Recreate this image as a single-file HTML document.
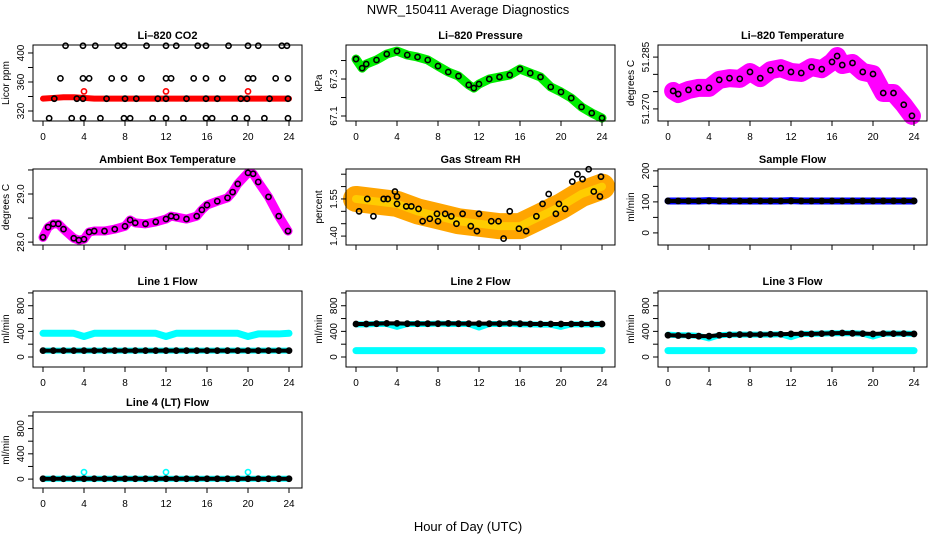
<!DOCTYPE html>
<html><head><meta charset="utf-8"><style>
html,body{margin:0;padding:0;background:#fff;}
svg{display:block;font-family:"Liberation Sans",sans-serif;}
</style></head><body>
<svg id="chart" width="936" height="540" viewBox="0 0 936 540" xmlns="http://www.w3.org/2000/svg">
<text x="468" y="14" text-anchor="middle" font-size="13">NWR_150411  Average Diagnostics</text>
<text x="468" y="531" text-anchor="middle" font-size="13">Hour of Day (UTC)</text>
</svg>
<script>
const xTicks = [0,4,8,12,16,20,24];
// CO2
const co2BandHours = [0,1,2,3,4,5,6,8,10,12,14,16,18,20,22,24];
const co2BandVals = [337,338,339,339,338,337,337,337,337,337,337,337,337,337,337,337];
const co2BlackHours = [2.2,3.9,5.1,7.3,7.9,10.1,12,13,15.1,15.9,18.1,20,21,23.3,23.8,1.7,3.9,4.5,6.7,7.9,9.6,12,12.5,14.7,15.9,17.5,20,20.5,22.7,23.9,1.1,3.3,3.9,6.2,8,9.1,11.2,12,14,15.9,17,19.3,19.9,22.1,23.9,0.6,2.8,3.9,5.6,7.9,8.5,10.7,12,13.7,15.9,16.5,18.7,19.9,21.6,23.9];
const co2BlackVals = [410,410,410,410,410,410,410,410,410,410,410,410,410,410,410,365,365,365,365,365,365,365,365,365,365,365,365,365,365,365,337,337,337,337,337,337,337,337,337,337,337,337,337,337,337,310,310,310,310,310,310,310,310,310,310,310,310,310,310,310];
const co2RedHours = [4,12,20];
const co2RedVals = [347,347,347];
// Pressure
const presHours = [0,0.6,1,2,3,4,5,6,7,8,9,10,11,11.5,12,13,14,15,16,17,18,19,20,21,22,23,24];
const presVals = [67.408,67.359,67.381,67.403,67.435,67.451,67.430,67.419,67.403,67.370,67.338,67.316,67.268,67.251,67.273,67.300,67.311,67.322,67.354,67.332,67.311,67.257,67.230,67.197,67.149,67.116,67.089];
// Li-820 temperature
const tempHours = [0.5,1,2,3,4,5,6,7,8,9,10,11,12,13,14,15,16,16.5,17,18,19,20,21,22,23,23.8];
const tempVals = [51.2752,51.2743,51.2755,51.2761,51.2761,51.2784,51.2789,51.2787,51.2807,51.2789,51.2812,51.2818,51.2807,51.2804,51.2821,51.2815,51.2836,51.2853,51.2827,51.2833,51.2807,51.2801,51.2746,51.2746,51.2712,51.2680];
// Ambient box temperature
const ambHours = [0,0.5,1,1.5,2,3,3.5,4,4.5,5,6,7,8,8.5,9,10,11,12,12.5,13,14,15,15.5,16,17,18,18.5,19,20,20.5,21,22,23,23.9];
const ambVals = [28.10,28.31,28.38,28.38,28.27,28.08,28.04,28.06,28.21,28.23,28.23,28.27,28.33,28.46,28.40,28.38,28.42,28.48,28.54,28.52,28.48,28.54,28.67,28.77,28.85,28.92,29.04,29.21,29.44,29.42,29.25,28.94,28.54,28.23];
// Gas stream RH
const rhHours = [0,2,4,6,8,10,12,14,16,18,20,22,24];
const rhVals = [1.55,1.54,1.53,1.50,1.48,1.46,1.45,1.44,1.44,1.48,1.52,1.57,1.60];
const rhBlackHours = [0.3,1.1,1.7,2.7,3.1,3.8,4,4,4.9,5.4,6.1,6.5,7.2,7.9,8,8.7,9.3,9.8,10.4,11.2,11.8,12,13.2,13.9,14.4,15,15.9,16.6,17.6,18.2,18.8,19.5,19.8,20.4,21.1,21.6,22.1,22.7,23.2,23.8,23.9];
const rhBlackVals = [1.50,1.55,1.48,1.55,1.55,1.58,1.56,1.53,1.52,1.52,1.51,1.46,1.47,1.49,1.46,1.49,1.48,1.45,1.49,1.44,1.42,1.49,1.46,1.46,1.39,1.50,1.43,1.42,1.48,1.53,1.57,1.49,1.53,1.51,1.62,1.65,1.63,1.67,1.58,1.56,1.64];
// Flows (hourly)
const flowHours = [0,1,2,3,4,5,6,7,8,9,10,11,12,13,14,15,16,17,18,19,20,21,22,23,24];
const sampleBand = [103,103,103,103,104,103,103,103,103,103,103,103,104,103,103,103,103,103,103,103,103,103,103,103,103];
const sampleBlack = [103,103,103,103,103,103,103,103,103,103,103,103,103,103,103,103,103,103,103,103,103,103,103,103,103];
const line1Upper = [370,370,370,370,320,370,370,370,370,370,370,370,320,370,370,370,370,370,370,370,320,360,360,360,370];
const line1Lower = [100,100,100,100,100,100,100,100,100,100,100,100,100,100,100,100,100,100,100,100,100,100,100,100,100];
const line1Black = [100,100,100,100,100,100,100,100,100,100,100,100,100,100,100,100,100,100,100,100,100,100,100,100,100];
const line2Upper = [510,510,515,515,470,515,515,515,520,515,515,515,460,515,515,520,510,510,505,505,470,510,510,510,510];
const line2Lower = [100,100,100,100,100,100,100,100,100,100,100,100,100,100,100,100,100,100,100,100,100,100,100,100,100];
const line2Black = [515,515,520,525,525,520,520,520,520,525,520,520,520,520,520,525,520,515,515,515,515,515,515,515,515];
const line3Upper = [350,340,340,330,290,340,350,350,350,350,350,355,310,360,360,365,370,370,370,365,320,365,365,365,360];
const line3Lower = [100,100,100,100,100,100,100,100,100,100,100,100,100,100,100,100,100,100,100,100,100,100,100,100,100];
const line3Black = [340,335,330,325,325,340,345,350,350,350,355,355,360,360,360,365,370,375,370,365,360,365,365,365,360];
const line4Band = [5,5,5,5,5,5,5,5,5,5,5,5,5,5,5,5,5,5,5,5,5,5,5,5,5];
const line4Black = [5,5,5,5,5,5,5,5,5,5,5,5,5,5,5,5,5,5,5,5,5,5,5,5,5];
const outlierHours = [4,12,20];
const line4Outliers = [110,110,110];

const NS = "http://www.w3.org/2000/svg";
const svg = document.getElementById('chart');
function el(tag, attrs, parent){const e=document.createElementNS(NS,tag);for(const k in attrs)e.setAttribute(k,attrs[k]);(parent||svg).appendChild(e);return e;}

const colX0 = [43, 356, 668];
const rowTop = [45, 169, 291, 412];
const BH = 76, PXH = 246/24;

function makePanel(name, col, row, title, ylab, ylim, yTicks, yLabels, dec, showXLabels){
  const g = el('g', {});
  
  
  const x0 = colX0[col], top = rowTop[row], bottom = top + BH;
  const left = x0 - 10, right = x0 + 259;
  const xs = h => x0 + h * PXH;
  const ys = v => bottom - (v - ylim[0]) / (ylim[1] - ylim[0]) * BH;
  const plot = el('g', {}, g);
  
  
  const box = el('rect', {x:left, y:top, width:right-left, height:BH, fill:'none', stroke:'#000', 'stroke-width':1}, g);
  
  
  const t = el('text', {x:(left+right)/2, y:top-6, 'text-anchor':'middle', 'font-size':11, 'font-weight':'bold'}, g);
  t.textContent = title;
  
  
  const yl = el('text', {x:0, y:0, 'text-anchor':'middle', 'font-size':10, transform:`translate(${left-24},${(top+bottom)/2}) rotate(-90)`}, g);
  yl.textContent = ylab;
  
  
  yTicks.forEach(v => {
    const y = ys(v);
    el('line', {x1:left-5, x2:left, y1:y, y2:y, stroke:'#000'}, g);
  });
  yLabels.forEach(v => {
    const y = ys(v);
    const tl = el('text', {x:0, y:0, 'text-anchor':'middle', 'font-size':10, transform:`translate(${left-9},${y}) rotate(-90)`}, g);
    tl.textContent = v.toFixed(dec);
    
    
  });
  xTicks.forEach(h => {
    const x = xs(h);
    el('line', {x1:x, x2:x, y1:bottom, y2:bottom+5, stroke:'#000'}, g);
    if (showXLabels) {
      const tl = el('text', {x:x, y:bottom+19, 'text-anchor':'middle', 'font-size':10}, g);
      tl.textContent = String(h);
      
      
    }
  });
  return {g:plot, xs, ys};
}
function band(p, hours, vals, color, w, name){
  const pl = el('polyline', {points: hours.map((h,i)=>p.xs(h)+','+p.ys(vals[i])).join(' '), fill:'none', stroke:color, 'stroke-width':w, 'stroke-linejoin':'round', 'stroke-linecap':'round'}, p.g);
  
  
}
function circles(p, hours, vals, color, name, r){
  hours.forEach((h,i)=>{
    const c = el('circle', {cx:p.xs(h), cy:p.ys(vals[i]), r:r||2.6, fill:'none', stroke:color, 'stroke-width':1.6}, p.g);
    
    
  });
}
function chain(p, hours, vals, name){
  band(p, hours, vals, '#000', 4, name + '-line');
  circles(p, hours, vals, '#000', name);
}

// Row 1
let p = makePanel('co2', 0, 0, 'Li–820 CO2', 'Licor ppm', [306.2, 411], [320,340,360,380,400], [320,360,400], 0, true);
band(p, co2BandHours, co2BandVals, '#ff0000', 6, 'co2-red-band');
circles(p, co2RedHours, co2RedVals, '#ff0000', 'co2-red-point');
circles(p, co2BlackHours, co2BlackVals, '#000', 'co2-black-point');

p = makePanel('pressure', 1, 0, 'Li–820 Pressure', 'kPa', [67.073, 67.484], [67.1,67.2,67.3,67.4], [67.1,67.3], 1, true);
band(p, presHours, presVals, '#00ee00', 9, 'pressure-green-band');
circles(p, presHours, presVals, '#000', 'pressure-black-point');

p = makePanel('temperature', 2, 0, 'Li–820 Temperature', 'degrees C', [51.2665, 51.2885], [51.270,51.275,51.280,51.285], [51.270,51.285], 3, true);
band(p, tempHours, tempVals, '#ff00ff', 18, 'temperature-magenta-band');
circles(p, tempHours, tempVals, '#000', 'temperature-black-point');

// Row 2
p = makePanel('ambient', 0, 1, 'Ambient Box Temperature', 'degrees C', [27.94, 29.52], [28.0,28.5,29.0,29.5], [28.0,29.0], 1, false);
band(p, ambHours, ambVals, '#ff00ff', 9, 'ambient-magenta-band');
circles(p, ambHours, ambVals, '#000', 'ambient-black-point');

p = makePanel('rh', 1, 1, 'Gas Stream RH', 'percent', [1.364, 1.671], [1.40,1.45,1.50,1.55,1.60,1.65], [1.40,1.55], 2, false);
band(p, rhHours, rhVals, '#ffa500', 26, 'rh-orange-band');
band(p, rhHours, rhVals, '#ffcc00', 8, 'rh-yellow-core');
circles(p, rhBlackHours, rhBlackVals, '#000', 'rh-black-point');

p = makePanel('sample-flow', 2, 1, 'Sample Flow', 'ml/min', [-39, 206], [0,50,100,150,200], [0,100,200], 0, false);
band(p, flowHours, sampleBand, '#0000ff', 7, 'sample-flow-blue-band');
chain(p, flowHours, sampleBlack, 'sample-flow-black-point');

// Row 3
const flowTicks = [0,200,400,600,800,1000], flowLabels = [0,400,800];
p = makePanel('line1-flow', 0, 2, 'Line 1 Flow', 'ml/min', [-156, 1030], flowTicks, flowLabels, 0, true);
band(p, flowHours, line1Upper, '#00ffff', 7, 'line1-cyan-upper');
band(p, flowHours, line1Lower, '#00ffff', 6, 'line1-cyan-lower');
chain(p, flowHours, line1Black, 'line1-black-point');

p = makePanel('line2-flow', 1, 2, 'Line 2 Flow', 'ml/min', [-156, 1030], flowTicks, flowLabels, 0, true);
band(p, flowHours, line2Upper, '#00ffff', 6, 'line2-cyan-upper');
band(p, flowHours, line2Lower, '#00ffff', 7, 'line2-cyan-lower');
chain(p, flowHours, line2Black, 'line2-black-point');

p = makePanel('line3-flow', 2, 2, 'Line 3 Flow', 'ml/min', [-156, 1030], flowTicks, flowLabels, 0, true);
band(p, flowHours, line3Upper, '#00ffff', 6, 'line3-cyan-upper');
band(p, flowHours, line3Lower, '#00ffff', 7, 'line3-cyan-lower');
chain(p, flowHours, line3Black, 'line3-black-point');

// Row 4
p = makePanel('line4-flow', 0, 3, 'Line 4 (LT) Flow', 'ml/min', [-141, 1062], flowTicks, flowLabels, 0, true);
band(p, flowHours, line4Band, '#00ffff', 6, 'line4-cyan-band');
circles(p, outlierHours, line4Outliers, '#00ffff', 'line4-cyan-outlier');
chain(p, flowHours, line4Black, 'line4-black-point');
</script>
</body></html>
